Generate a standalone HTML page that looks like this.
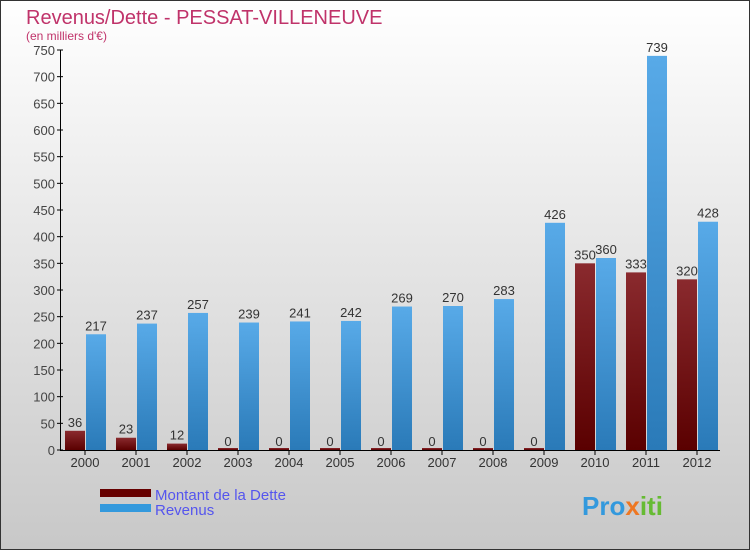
<!DOCTYPE html>
<html><head><meta charset="utf-8"><style>
body{margin:0}
svg{display:block;font-family:"Liberation Sans",sans-serif}
</style></head><body>
<svg id="chart" width="750" height="550" xmlns="http://www.w3.org/2000/svg">
<defs>
<linearGradient id="bg" x1="0" y1="0" x2="0" y2="1"><stop offset="0" stop-color="#ffffff"/><stop offset="1" stop-color="#c8c8c8"/></linearGradient>
<linearGradient id="gd" x1="0" y1="0" x2="0" y2="1"><stop offset="0" stop-color="#8a2a2e"/><stop offset="1" stop-color="#5a0000"/></linearGradient>
<linearGradient id="gr" x1="0" y1="0" x2="0" y2="1"><stop offset="0" stop-color="#58aae8"/><stop offset="1" stop-color="#2a7ab8"/></linearGradient>
</defs>
<rect x="0.5" y="0.5" width="749" height="549" fill="url(#bg)" stroke="#333"/>
<text x="26" y="24" font-size="20" fill="#c0336a">Revenus/Dette - PESSAT-VILLENEUVE</text>
<text x="26" y="40" font-size="12" fill="#c0336a">(en milliers d'€)</text>
<g id="plot"></g>
<g>
<rect x="100" y="489" width="51" height="8" fill="#660000"/>
<text x="155" y="500" font-size="15" fill="#5555ee">Montant de la Dette</text>
<rect x="100" y="504" width="51" height="8" fill="#3399dd"/>
<text x="155" y="515" font-size="15" fill="#5555ee">Revenus</text>
</g>
<text x="582" y="515" font-size="26" font-weight="bold" fill="#3399dd">Pro<tspan fill="#ee7722">x</tspan><tspan fill="#66bb33">iti</tspan></text>
</svg>
<script>
const years=["2000","2001","2002","2003","2004","2005","2006","2007","2008","2009","2010","2011","2012"];
const dette=[36,23,12,0,0,0,0,0,0,0,350,333,320];
const revenus=[217,237,257,239,241,242,269,270,283,426,360,739,428];
const ticks=[0,50,100,150,200,250,300,350,400,450,500,550,600,650,700,750];
const NS="http://www.w3.org/2000/svg";
const g=document.getElementById('plot');
const y=v=>450-v*400/750;
const gx=i=>64+i*51;
function mk(t,a,txt){const e=document.createElementNS(NS,t);for(const k in a)e.setAttribute(k,a[k]);if(txt!==undefined)e.textContent=txt;g.appendChild(e);return e;}
ticks.forEach(t=>{
 const l=mk('line',{x1:57,x2:63,y1:y(t),y2:y(t),stroke:'#000'});
 
 
 const tx=mk('text',{x:55,y:y(t)+5,'font-size':13,fill:'#444','text-anchor':'end'},t);
 
 
});
years.forEach((yr,i)=>{
 const x=gx(i);
 const d=mk('rect',{x:x+1,y:y(dette[i])-(dette[i]?0:2),width:20,height:Math.max(2,450-y(dette[i])),fill:'url(#gd)'});
 
 
 const r=mk('rect',{x:x+22,y:y(revenus[i]),width:20,height:450-y(revenus[i]),fill:'url(#gr)'});
 
 
 const dl=mk('text',{x:x+11,y:y(dette[i])-4,'font-size':13,fill:'#333','text-anchor':'middle'},dette[i]);
 
 
 const rl=mk('text',{x:x+32,y:y(revenus[i])-4,'font-size':13,fill:'#333','text-anchor':'middle'},revenus[i]);
 
 
 const xt=mk('line',{x1:x+21,x2:x+21,y1:450,y2:455,stroke:'#000'});
 
 
 const xl=mk('text',{x:x+21,y:467,'font-size':13,fill:'#333','text-anchor':'middle'},yr);
 
 
});
const ax=mk('line',{x1:60.5,x2:60.5,y1:50,y2:450,stroke:'#000'});


const bx=mk('line',{x1:60,x2:720,y1:450.5,y2:450.5,stroke:'#000'});


</script>
</body></html>
